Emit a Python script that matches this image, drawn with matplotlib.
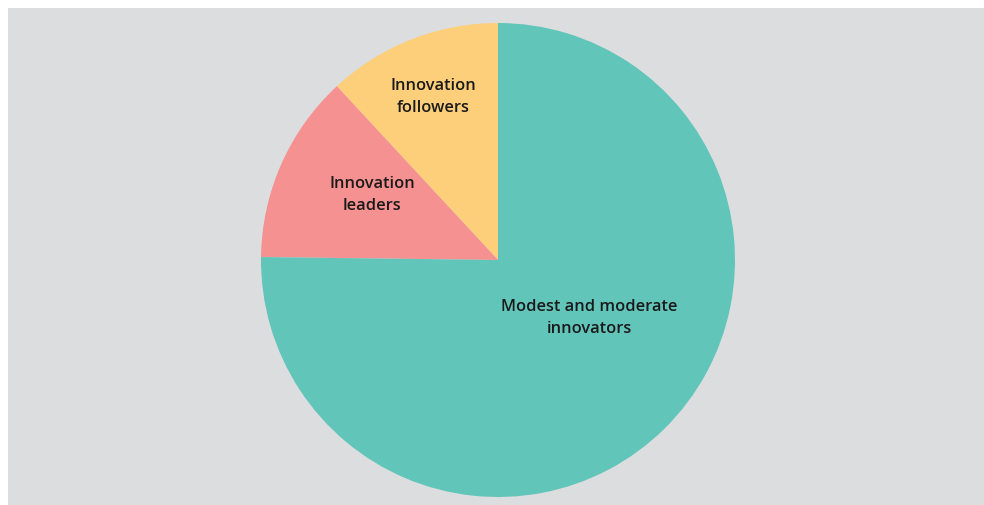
import matplotlib
matplotlib.use('Agg')
import matplotlib.pyplot as plt
from matplotlib.patches import Rectangle

# parts of the pie (share in %)
categorias = ['Innovation\nfollowers', 'Innovation\nleaders', 'Modest and moderate\ninnovators']
valores = [11.9, 12.9, 75.2]
colores = ['#fdcf7b', '#f69191', '#62c5b9']

W, H = 984, 505
fig = plt.figure(figsize=(W / 100, H / 100), dpi=100, facecolor='white')
# fondo gris
fig.patches.append(Rectangle((8 / W, 0), 1 - 8 / W, 1 - 8 / H, transform=fig.transFigure,
                             facecolor='#dcdddf', edgecolor='none', zorder=-5))

cx, cy, r = 498, 260, 237
ax = fig.add_axes([(cx - r) / W, (H - cy - r) / H, 2 * r / W, 2 * r / H])
ax.set_zorder(5)
ax.set_facecolor('none')
wedges, _ = ax.pie(valores, colors=colores, startangle=90, counterclock=True,
                   radius=1, wedgeprops=dict(linewidth=0))
ax.set_xlim(-1, 1)
ax.set_ylim(-1, 1)
ax.set_aspect('equal')
ax.axis('off')

# posiciones de las etiquetas
pos = [(-0.274, 0.688), (-0.532, 0.274), (0.384, -0.245)]
for texto, (x, y) in zip(categorias, pos):
    ax.text(x, y, texto, ha='center', va='center', fontsize=11.8, family='Open Sans',
            fontweight='semibold', color='#1a1a1a', linespacing=1.55)

fig.savefig('out.png', dpi=100, facecolor=fig.get_facecolor())
